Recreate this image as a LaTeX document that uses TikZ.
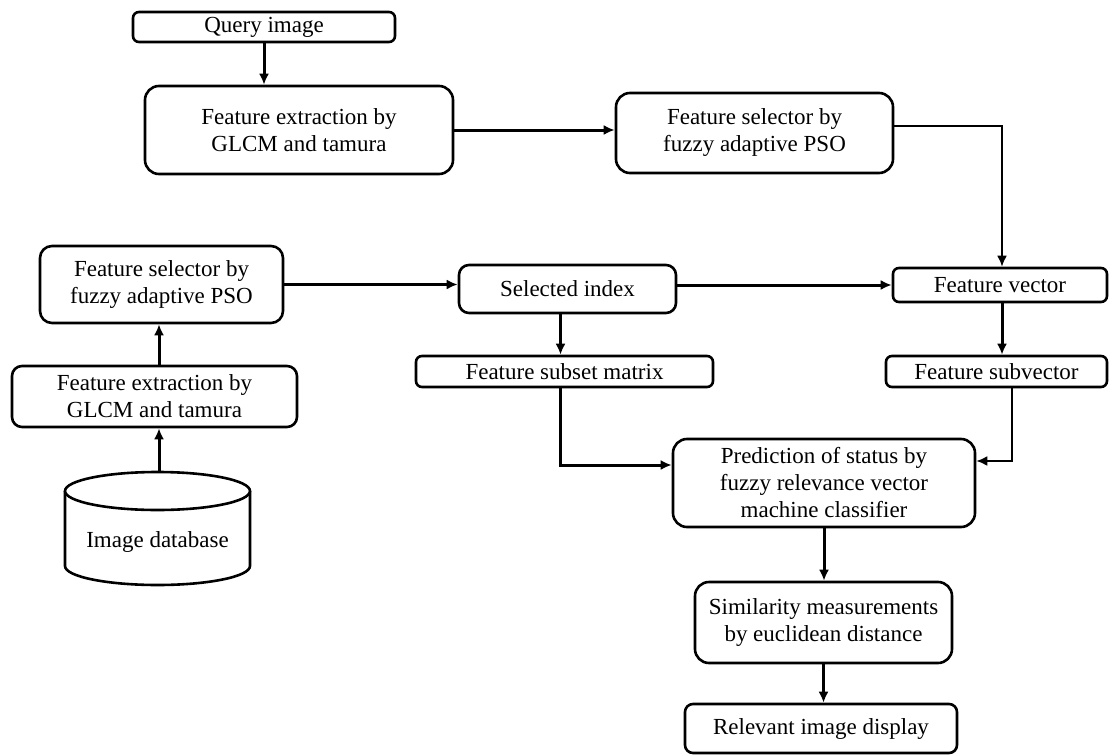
\documentclass[tikz,border=0pt]{standalone}
\usepackage{fontspec}
\setmainfont{Liberation Serif}
\usetikzlibrary{arrows.meta}
\begin{document}
\begin{tikzpicture}[x=1pt, y=-1pt,
    font=\fontsize{23}{27}\selectfont,
    box/.style={draw, line width=2.6pt, rounded corners=#1, align=center, inner sep=0pt},
    box/.default=14pt,
    wire/.style={line width=3pt, -{Latex[length=11pt,width=10pt]}}]
  \useasboundingbox (0,0) rectangle (1109,755);
  % QUERY SIDE
  \node[box=6pt, minimum width=262pt, minimum height=30pt] (query) at (264,27) {Query image};
  \node[box, minimum width=308pt, minimum height=88pt] (featTop) at (299,130) {Feature extraction by\\GLCM and tamura};
  \node[box, minimum width=277pt, minimum height=80pt] (selTop) at (754.5,133) {Feature selector by\\fuzzy adaptive PSO};
  % DATABASE SIDE
  \draw[line width=2.6pt] (65,491) -- (65,566) arc[start angle=180, end angle=0, x radius=92.5, y radius=19] -- (250,491);
  \draw[line width=2.6pt, fill=white] (157.5,491) ellipse [x radius=92.5, y radius=19];
  \coordinate (dbTop) at (159,472);
  \node (db) at (157.5,542) {Image database};
  \node[box=10pt, minimum width=285pt, minimum height=61pt] (featLeft) at (154.5,396.5) {Feature extraction by\\GLCM and tamura};
  \node[box=12pt, minimum width=243pt, minimum height=77pt] (selLeft) at (161.5,284.5) {Feature selector by\\fuzzy adaptive PSO};
  % INDEX AND VECTORS
  \node[box=10pt, minimum width=217pt, minimum height=48pt] (index) at (567.5,289) {Selected index};
  \node[box=6pt, minimum width=297pt, minimum height=31pt] (subMatrix) at (564.5,371.5) {Feature subset matrix};
  \node[box=6pt, minimum width=214pt, minimum height=34pt] (vec) at (1000,285) {Feature vector};
  \node[box=6pt, minimum width=221pt, minimum height=31pt] (subVec) at (996.5,371.5) {Feature subvector};
  % CLASSIFIER AND OUTPUT
  \node[box, minimum width=302pt, minimum height=88pt] (predict) at (824,483) {Prediction of status by\\fuzzy relevance vector\\machine classifier};
  \node[box, minimum width=257pt, minimum height=81pt] (simil) at (823.5,622.5) {Similarity measurements\\by euclidean distance};
  \node[box=8pt, minimum width=272pt, minimum height=49pt] (display) at (821,728.5) {Relevant image display};
  % WIRES
  \draw[wire] (query.south) -- (query.south |- featTop.north);
  \draw[wire] (featTop.east) -- (featTop.east -| selTop.west);
  \draw[wire, line width=2pt] ([yshift=7pt]selTop.east) -| ([xshift=2pt]vec.north);
  \draw[wire] (dbTop) -- (dbTop |- featLeft.south);
  \draw[wire] (featLeft.north -| dbTop) -- (dbTop |- selLeft.south);
  \draw[wire] (selLeft.east) -- (selLeft.east -| index.west);
  \draw[wire] (vec.west -| index.east) -- (vec.west);
  \draw[wire] ([xshift=-4pt]subMatrix.north |- index.south) -- ([xshift=-4pt]subMatrix.north);
  \draw[wire] ([xshift=2pt]vec.south) -- ([xshift=2pt]vec.south |- subVec.north);
  \draw[wire] ([xshift=-4pt]subMatrix.south) |- ([yshift=18pt]predict.west);
  \draw[wire, line width=2pt] ([xshift=15pt]subVec.south) |- ([yshift=22pt]predict.east);
  \draw[wire] (predict.south) -- (predict.south |- simil.north);
  \draw[wire] (simil.south) -- (simil.south |- display.north);
\end{tikzpicture}
\end{document}
